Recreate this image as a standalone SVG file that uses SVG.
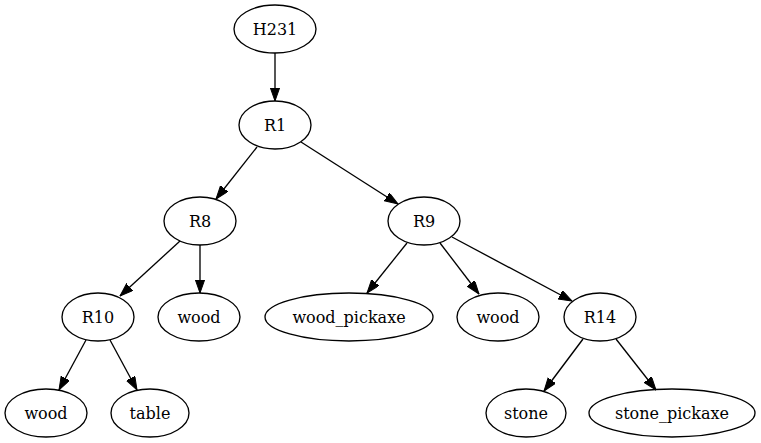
<svg xmlns="http://www.w3.org/2000/svg" width="761" height="443" viewBox="0 0 761 443">
<defs>
<style>
.node ellipse{fill:none;stroke:#000;stroke-width:1.33}
.node text{font-family:"DejaVu Serif",serif;font-size:16px;fill:#000;text-anchor:middle}
.edges line{stroke:#000;stroke-width:1.33}
</style>
<marker id="arr" markerUnits="userSpaceOnUse" markerWidth="14" markerHeight="10" refX="13.3" refY="4.7" orient="auto">
<path d="M0,0 L13.3,4.7 L0,9.4 z" fill="#000" stroke="#000" stroke-width="1"/>
</marker>
</defs>
<rect width="761" height="443" fill="#fff"/>
<g class="edges">
<line x1="275" y1="53" x2="275" y2="101" marker-end="url(#arr)"/>
<line x1="257" y1="147" x2="216" y2="199" marker-end="url(#arr)"/>
<line x1="301" y1="142" x2="398" y2="204" marker-end="url(#arr)"/>
<line x1="180" y1="241" x2="120" y2="296" marker-end="url(#arr)"/>
<line x1="200" y1="245" x2="200" y2="293" marker-end="url(#arr)"/>
<line x1="407" y1="243" x2="367" y2="293" marker-end="url(#arr)"/>
<line x1="440" y1="243" x2="479" y2="294" marker-end="url(#arr)"/>
<line x1="452" y1="237" x2="572" y2="301" marker-end="url(#arr)"/>
<line x1="86" y1="340" x2="59" y2="390" marker-end="url(#arr)"/>
<line x1="110" y1="340" x2="137" y2="390" marker-end="url(#arr)"/>
<line x1="583" y1="339" x2="544" y2="391" marker-end="url(#arr)"/>
<line x1="616" y1="339" x2="656" y2="390" marker-end="url(#arr)"/>
</g>
<g id="H231" class="node"><ellipse cx="275" cy="29" rx="41" ry="24"/><text x="275" y="35">H231</text></g>
<g id="R1" class="node"><ellipse cx="275" cy="125" rx="36" ry="24"/><text x="275" y="131">R1</text></g>
<g id="R8" class="node"><ellipse cx="200" cy="221" rx="36" ry="24"/><text x="200" y="227">R8</text></g>
<g id="R9" class="node"><ellipse cx="424" cy="221" rx="36" ry="24"/><text x="424" y="227">R9</text></g>
<g id="R10" class="node"><ellipse cx="98" cy="317" rx="36" ry="24"/><text x="98" y="323">R10</text></g>
<g id="wood_r8" class="node"><ellipse cx="199" cy="317" rx="41" ry="24"/><text x="199" y="323">wood</text></g>
<g id="wood_pickaxe" class="node"><ellipse cx="349" cy="317" rx="84" ry="24"/><text x="349" y="323">wood_pickaxe</text></g>
<g id="wood_r9" class="node"><ellipse cx="498" cy="317" rx="41" ry="24"/><text x="498" y="323">wood</text></g>
<g id="R14" class="node"><ellipse cx="600" cy="317" rx="36" ry="24"/><text x="600" y="323">R14</text></g>
<g id="wood_r10" class="node"><ellipse cx="46" cy="413" rx="41" ry="24"/><text x="46" y="419">wood</text></g>
<g id="table" class="node"><ellipse cx="150" cy="413" rx="39" ry="24"/><text x="150" y="419">table</text></g>
<g id="stone" class="node"><ellipse cx="526" cy="413" rx="40" ry="24"/><text x="526" y="419">stone</text></g>
<g id="stone_pickaxe" class="node"><ellipse cx="672" cy="413" rx="83" ry="24"/><text x="672" y="419">stone_pickaxe</text></g>
</svg>
